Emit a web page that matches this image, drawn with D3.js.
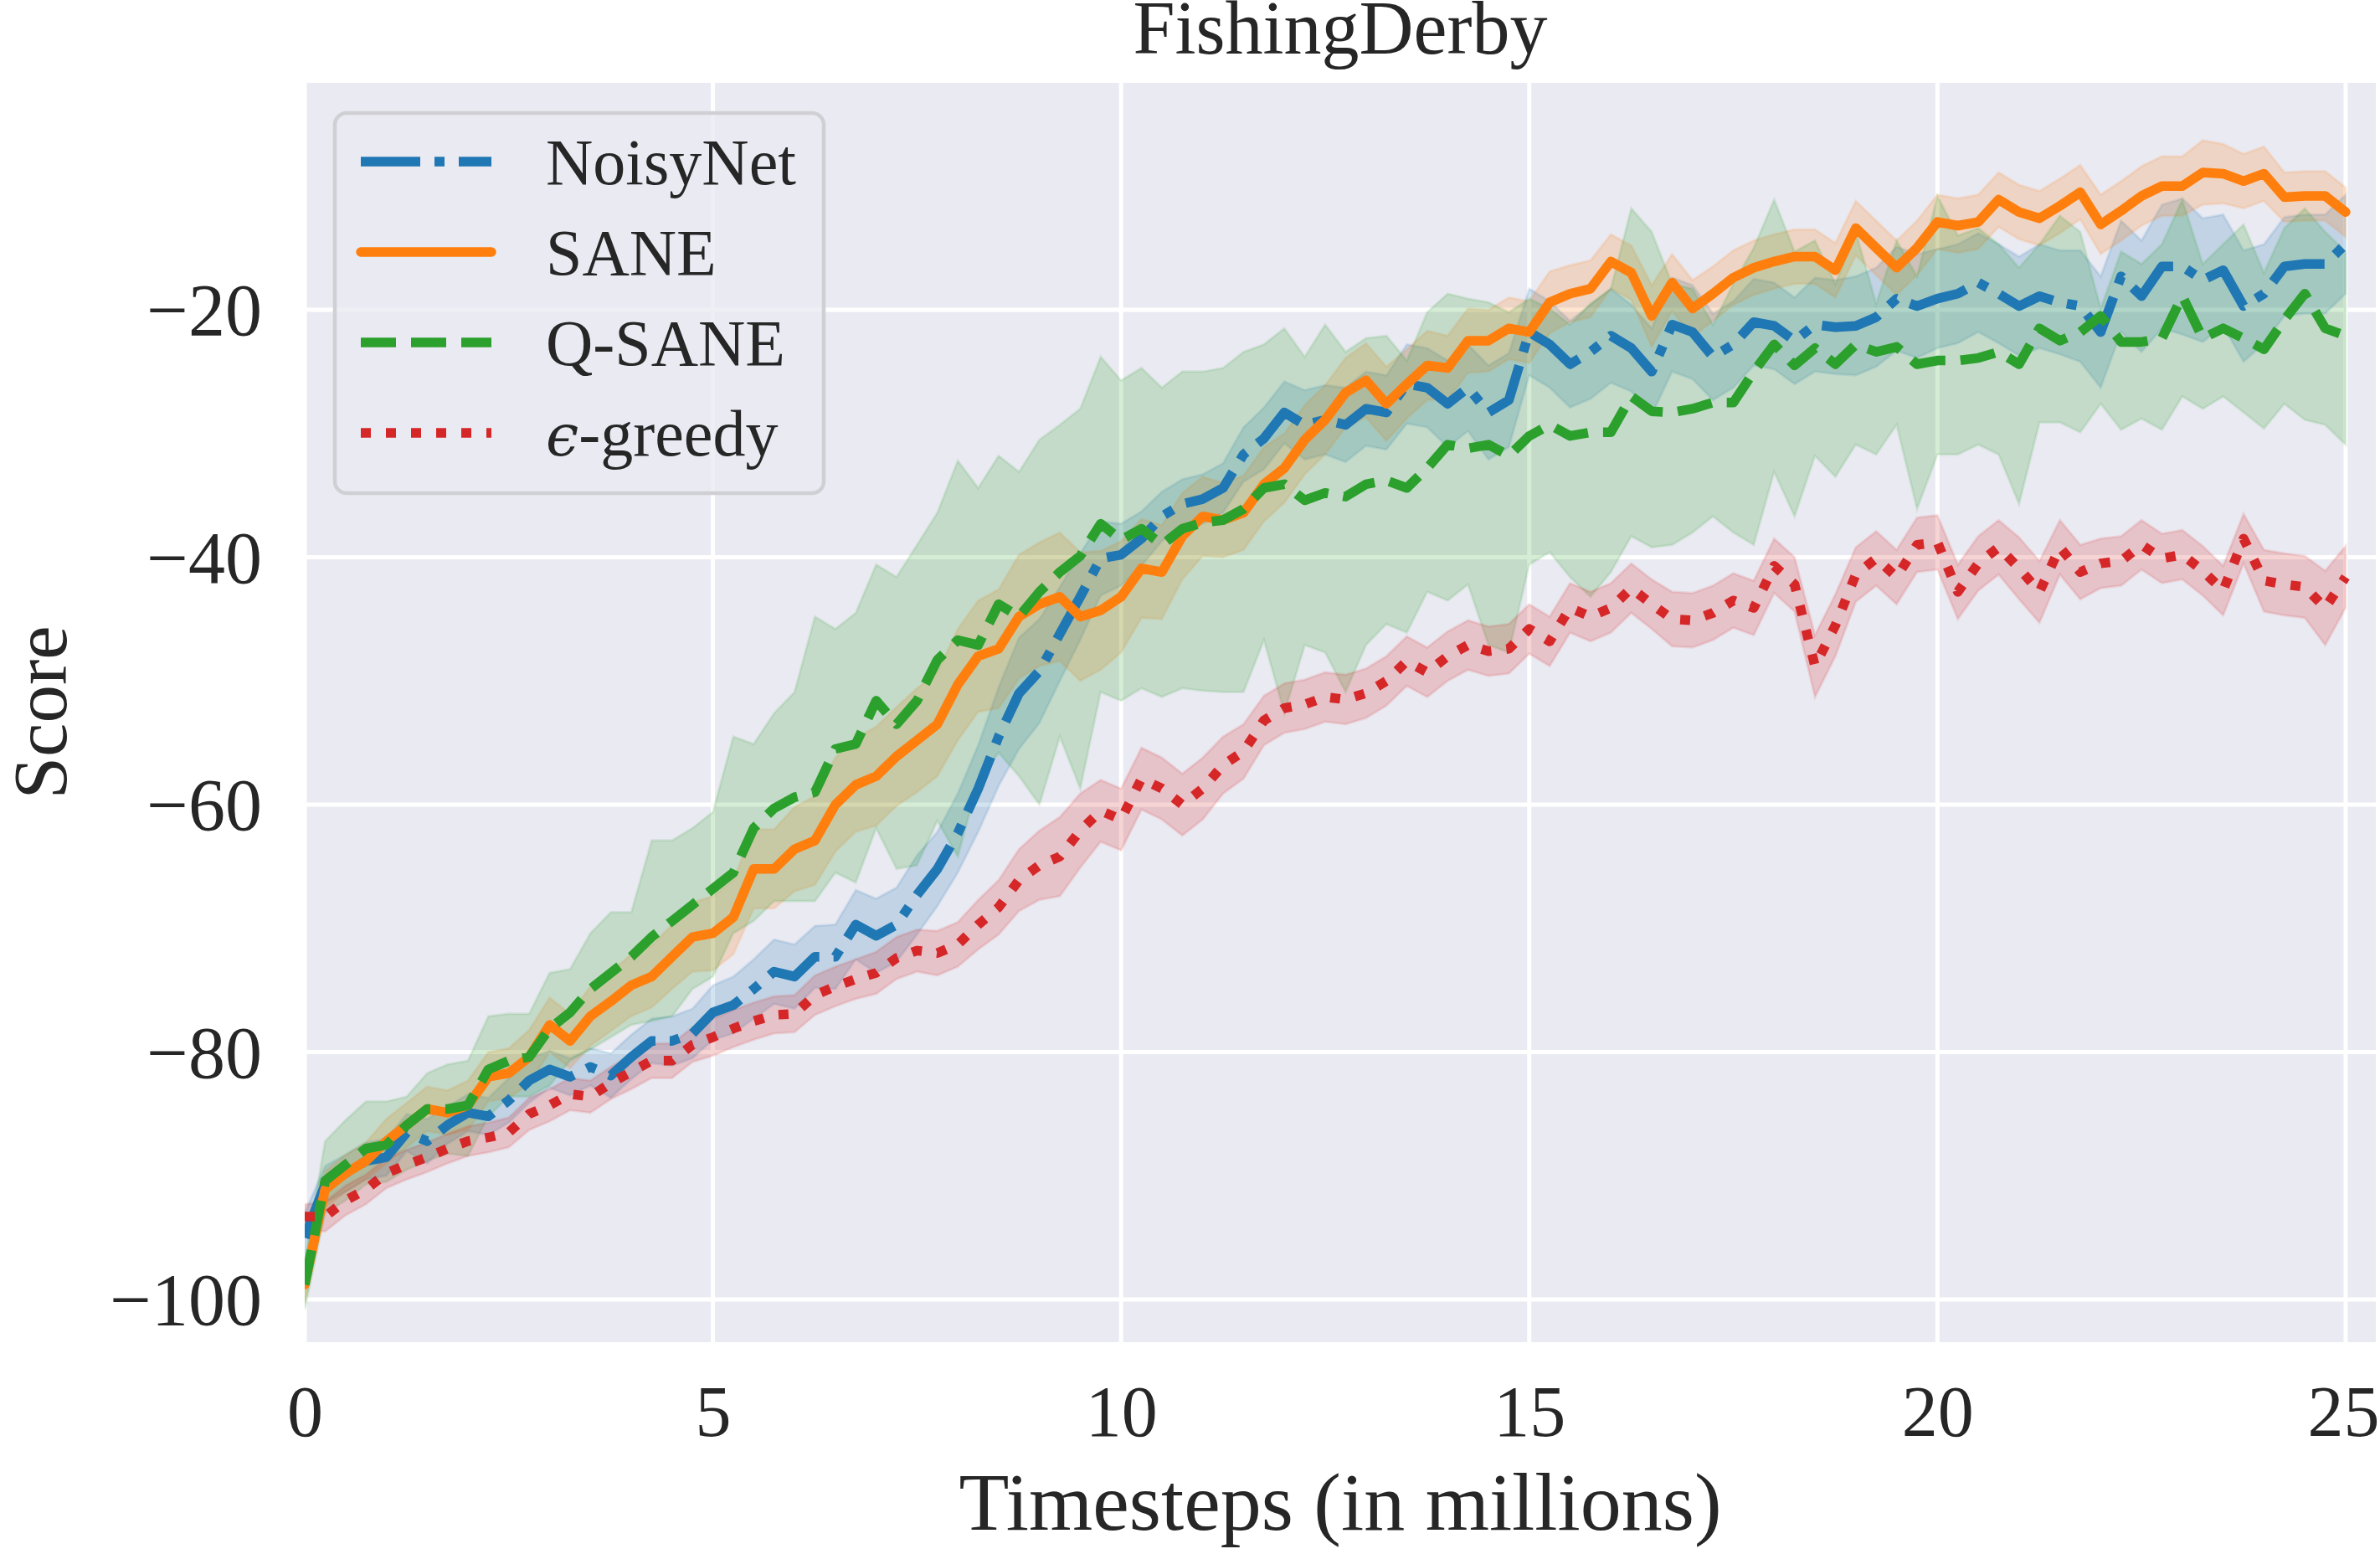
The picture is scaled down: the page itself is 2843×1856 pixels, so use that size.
<!DOCTYPE html>
<html>
<head>
<meta charset="utf-8">
<script src="https://cdn.jsdelivr.net/npm/d3@7/dist/d3.min.js"></script>
<style>
html,body{margin:0;padding:0;background:#fff;}
svg{display:block;}
text{font-family:"Liberation Serif","Times New Roman",serif;fill:#262626;}
</style>
</head>
<body>
<svg id="chart" width="2843" height="1856"></svg>
<script>
// ---------------- DATA ----------------
const timesteps = d3.range(0, 101).map(i => i * 0.25); // 0 .. 25 (millions)
const xTicks = [0, 5, 10, 15, 20, 25];
const yTicks = [-100, -80, -60, -40, -20];
const seriesNames = ["NoisyNet", "SANE", "Q-SANE", "ϵ-greedy"];

const noisyNetMean = [
 -95.0,-90.7,-89.8,-88.8,-88.5,-86.5,-87.2,-85.9,-84.9,-85.2,
 -83.9,-82.3,-81.4,-82.0,-81.2,-81.9,-80.4,-79.1,-79.1,-78.5,
 -76.8,-76.2,-74.9,-73.5,-73.9,-72.3,-72.3,-69.7,-70.6,-69.7,
 -67.3,-65.2,-62.3,-58.7,-54.5,-51.0,-49.2,-46.2,-43.2,-40.1,
 -39.8,-38.5,-36.7,-35.7,-35.3,-34.4,-31.7,-30.4,-28.3,-29.3,
 -28.9,-29.3,-28.0,-28.3,-26.0,-26.3,-27.6,-26.3,-28.3,-27.3,
 -21.8,-22.8,-24.4,-23.4,-22.1,-23.1,-25.0,-21.2,-21.8,-23.8,
 -22.8,-21.0,-21.3,-22.5,-21.2,-21.4,-21.3,-20.6,-19.1,-19.7,
 -19.1,-18.7,-17.8,-18.7,-19.7,-18.9,-19.4,-19.7,-21.8,-17.3,
 -18.9,-16.5,-16.5,-17.6,-16.8,-19.7,-18.7,-16.5,-16.3,-16.3,
 -14.7];
const noisyNetSpread = [
 2.0,1.5,1.5,1.5,1.5,1.5,1.8,1.5,1.5,1.5,
 1.8,1.8,1.5,1.5,1.5,1.8,1.8,1.8,2.0,2.0,
 2.2,2.3,2.4,2.6,2.6,2.5,2.6,2.8,3.0,3.0,
 3.2,3.0,3.2,3.5,4.0,4.5,4.2,3.8,3.5,3.0,
 2.5,2.2,2.0,2.0,2.0,2.0,2.2,2.5,2.5,2.8,
 2.8,3.0,3.0,3.0,3.2,3.2,3.5,3.5,3.8,3.8,
 3.5,3.5,3.5,3.8,3.8,3.5,3.5,3.8,3.8,3.5,
 3.5,3.5,3.5,3.5,3.8,3.8,4.0,4.0,4.2,4.2,
 4.0,4.0,4.0,4.0,4.0,4.2,4.2,4.5,4.5,4.5,
 4.5,5.0,5.5,5.0,4.5,4.5,4.0,4.0,4.0,4.0,
 4.0];

const saneMean = [
 -98.8,-91.1,-89.8,-88.8,-87.2,-85.9,-84.6,-84.9,-84.3,-82.0,
 -81.7,-80.4,-77.8,-79.1,-77.1,-75.9,-74.6,-73.9,-72.3,-70.7,
 -70.4,-69.1,-65.2,-65.2,-63.6,-62.9,-60.0,-58.4,-57.7,-56.1,
 -54.8,-53.5,-50.3,-48.0,-47.4,-44.8,-43.8,-43.2,-44.8,-44.3,
 -43.2,-40.9,-41.2,-38.3,-36.7,-37.0,-36.4,-34.1,-32.8,-30.5,
 -28.9,-26.7,-25.7,-27.6,-26.0,-24.5,-24.7,-22.5,-22.5,-21.5,
 -21.8,-19.4,-18.7,-18.3,-16.1,-17.0,-20.5,-17.8,-19.9,-18.7,
 -17.4,-16.6,-16.1,-15.7,-15.7,-16.8,-13.4,-15.0,-16.6,-15.0,
 -12.9,-13.2,-12.9,-11.1,-12.1,-12.6,-11.6,-10.5,-13.1,-12.0,
 -10.8,-10.0,-10.0,-8.9,-9.0,-9.6,-9.0,-10.9,-10.8,-10.8,
 -12.1];
const saneSpread = [
 1.5,1.5,1.5,1.5,1.8,1.8,1.8,1.8,2.0,2.0,
 2.0,2.2,2.2,2.2,2.4,2.4,2.5,2.5,2.6,2.8,
 3.0,3.0,3.2,3.2,3.4,3.6,3.8,3.8,4.0,4.0,
 4.2,4.2,4.5,4.5,4.8,5.0,5.0,5.2,5.2,4.8,
 4.5,4.0,3.8,3.5,3.2,3.0,3.0,3.0,2.8,2.8,
 2.8,2.8,3.0,3.0,2.8,2.8,2.6,2.6,2.5,2.5,
 2.5,2.5,2.3,2.3,2.2,2.2,2.5,2.3,2.3,2.2,
 2.2,2.2,2.2,2.2,2.2,2.2,2.2,2.2,2.2,2.2,
 2.2,2.2,2.2,2.2,2.2,2.2,2.2,2.2,2.4,2.4,
 2.4,2.4,2.4,2.6,2.4,2.2,2.2,2.0,2.0,2.0,
 2.0];

const qsaneMean = [
 -98.8,-90.4,-89.1,-87.8,-87.5,-85.9,-84.6,-84.6,-84.3,-81.4,
 -80.7,-80.4,-78.1,-76.8,-74.9,-73.6,-72.3,-70.7,-69.4,-68.1,
 -66.8,-65.5,-61.9,-60.3,-59.4,-59.0,-55.5,-55.1,-51.6,-53.5,
 -51.6,-48.3,-46.7,-47.1,-43.8,-44.8,-42.8,-41.2,-39.9,-37.3,
 -38.6,-37.7,-39.0,-37.7,-37.2,-37.0,-36.1,-34.4,-34.1,-35.4,
 -34.8,-35.1,-34.1,-33.8,-34.4,-32.8,-30.9,-31.2,-30.9,-31.8,
 -30.2,-29.3,-30.2,-29.9,-29.9,-27.0,-28.2,-28.3,-28.0,-27.5,
 -27.5,-25.0,-22.8,-24.5,-23.1,-24.4,-22.8,-23.4,-23.0,-24.4,
 -24.1,-24.1,-23.9,-23.4,-24.4,-21.5,-22.5,-21.8,-20.5,-22.6,
 -22.6,-22.3,-18.9,-22.3,-21.5,-22.3,-23.2,-20.8,-18.7,-21.5,
 -22.1];
const qsaneUpper = [
 -96.8,-87.2,-85.5,-84.0,-84.0,-83.6,-81.7,-81.0,-80.7,-77.1,
 -76.9,-76.9,-73.6,-73.3,-70.4,-68.7,-68.7,-62.9,-62.9,-61.9,
 -60.6,-54.5,-55.1,-52.6,-50.9,-44.8,-45.8,-44.5,-40.6,-41.6,
 -39.0,-36.4,-32.2,-34.4,-31.8,-33.1,-30.5,-29.3,-28.0,-23.8,
 -25.7,-24.7,-26.3,-25.0,-25.0,-24.7,-23.4,-22.8,-21.5,-23.8,
 -21.2,-23.4,-22.3,-22.1,-24.1,-20.2,-18.7,-19.1,-19.4,-20.2,
 -19.1,-19.9,-21.2,-19.5,-18.3,-11.8,-13.7,-17.9,-18.3,-21.2,
 -17.9,-15.0,-11.1,-15.3,-14.4,-17.9,-13.7,-19.5,-14.4,-17.3,
 -10.8,-14.0,-13.4,-14.7,-16.6,-14.7,-12.4,-13.7,-19.9,-15.3,
 -16.3,-14.7,-11.1,-16.3,-14.7,-13.1,-17.0,-13.4,-11.8,-13.7,
 -15.3];
const qsaneLower = [
 -100.8,-93.0,-92.0,-90.7,-90.5,-89.5,-88.8,-88.2,-88.4,-85.2,
 -83.6,-83.6,-82.7,-80.7,-79.8,-78.8,-77.8,-77.5,-77.1,-74.9,
 -73.9,-70.4,-69.4,-67.8,-67.8,-67.8,-65.5,-66.3,-61.9,-65.2,
 -64.9,-61.3,-64.2,-58.1,-55.8,-57.7,-60.0,-54.5,-58.7,-50.9,
 -51.6,-50.6,-51.3,-50.6,-50.8,-50.9,-50.9,-46.7,-52.6,-47.1,
 -47.7,-50.9,-47.1,-45.4,-46.1,-42.8,-43.5,-42.2,-47.1,-47.7,
 -40.6,-39.6,-41.6,-43.2,-41.2,-38.3,-39.2,-39.0,-38.0,-36.7,
 -38.0,-39.0,-33.1,-36.7,-31.8,-33.5,-30.9,-31.7,-29.3,-36.1,
 -31.7,-31.7,-30.9,-31.7,-35.7,-29.1,-29.1,-29.9,-27.6,-29.7,
 -28.8,-29.7,-27.0,-28.0,-27.0,-28.3,-29.6,-27.6,-28.9,-29.3,
 -30.9];

const greedyMean = [
 -93.3,-93.3,-92.0,-91.1,-89.8,-89.1,-88.5,-87.8,-87.2,-86.9,
 -86.5,-85.0,-84.3,-83.4,-83.6,-82.5,-81.6,-80.7,-80.7,-79.4,
 -78.8,-78.1,-77.5,-77.0,-76.9,-75.4,-74.7,-74.1,-73.6,-72.4,
 -71.8,-72.0,-71.3,-69.7,-68.3,-66.1,-64.9,-64.2,-62.1,-60.5,
 -61.2,-57.9,-58.7,-60.0,-58.7,-56.8,-55.7,-53.2,-52.2,-51.9,
 -51.3,-51.5,-51.0,-50.0,-48.4,-49.3,-48.0,-47.1,-47.6,-47.4,
 -45.8,-46.8,-44.1,-44.8,-44.1,-42.5,-43.8,-45.0,-45.1,-44.5,
 -43.5,-44.1,-40.7,-42.2,-48.8,-45.5,-41.4,-40.1,-41.6,-39.0,
 -38.8,-42.8,-40.5,-39.2,-40.9,-42.8,-39.2,-41.2,-40.5,-40.3,
 -39.0,-40.1,-39.8,-41.1,-42.7,-38.5,-41.9,-42.2,-42.4,-44.1,
 -41.6];
const greedySpread = [
 1.0,1.2,1.2,1.2,1.2,1.2,1.2,1.2,1.2,1.2,
 1.2,1.3,1.3,1.3,1.3,1.3,1.4,1.4,1.4,1.4,
 1.5,1.5,1.5,1.5,1.5,1.6,1.6,1.6,1.7,1.7,
 1.7,1.8,1.8,2.0,2.2,2.5,2.8,3.2,3.0,2.5,
 2.5,2.5,2.5,2.5,2.5,2.3,2.2,2.0,2.0,2.0,
 2.0,2.0,2.0,2.0,2.0,2.0,2.0,2.0,2.0,2.0,
 2.0,2.0,2.0,2.0,2.0,2.0,2.0,2.2,2.2,2.2,
 2.2,2.2,2.2,2.2,2.5,2.5,2.2,2.2,2.2,2.2,
 2.2,2.2,2.2,2.2,2.5,2.5,2.2,2.2,2.0,2.0,
 2.0,2.0,2.0,2.0,2.0,2.0,2.5,2.5,2.5,3.0,
 2.5];

// ---------------- BUILD ----------------
const toRows = (mean, lo, hi) => timesteps.map((t, i) => ({t, m: mean[i], lo: lo[i], hi: hi[i]}));
const series = [
  {name: seriesNames[0], color: "#1f77b4", dash: "71,17,12,17", cap: "butt",
   rows: toRows(noisyNetMean, noisyNetMean.map((v,i)=>v-noisyNetSpread[i]), noisyNetMean.map((v,i)=>v+noisyNetSpread[i]))},
  {name: seriesNames[1], color: "#ff7f0e", dash: null, cap: "round",
   rows: toRows(saneMean, saneMean.map((v,i)=>v-saneSpread[i]), saneMean.map((v,i)=>v+saneSpread[i]))},
  {name: seriesNames[2], color: "#2ca02c", dash: "42,18", cap: "butt",
   rows: toRows(qsaneMean, qsaneLower, qsaneUpper)},
  {name: seriesNames[3], color: "#d62728", dash: "12,18", cap: "butt",
   rows: toRows(greedyMean, greedyMean.map((v,i)=>v-greedySpread[i]), greedyMean.map((v,i)=>v+greedySpread[i]))}
];

const L = 364, R = 2838, T = 99, B = 1603;
const x = d3.scaleLinear().domain([0, 25.37]).range([L, R]);
const y = d3.scaleLinear().domain([-103.45, -1.66]).range([B, T]);

const svg = d3.select("#chart");
svg.append("rect").attr("width", 2843).attr("height", 1856).attr("fill", "#ffffff");

svg.append("defs").append("clipPath").attr("id", "plotclip")
  .append("rect").attr("x", L).attr("y", T).attr("width", R - L).attr("height", B - T);

svg.append("rect").attr("x", L).attr("y", T).attr("width", R - L).attr("height", B - T).attr("fill", "#eaeaf2");

// grid
const grid = svg.append("g");
grid.selectAll(".gx").data(xTicks).join("line")
  .attr("x1", d => x(d)).attr("x2", d => x(d)).attr("y1", T).attr("y2", B)
  .attr("stroke", "#ffffff").attr("stroke-width", 5);
grid.selectAll(".gy").data(yTicks).join("line")
  .attr("x1", L).attr("x2", R).attr("y1", d => y(d)).attr("y2", d => y(d))
  .attr("stroke", "#ffffff").attr("stroke-width", 5);

const plot = svg.append("g").attr("clip-path", "url(#plotclip)");

// bands
const area = d3.area().x(d => x(d.t)).y0(d => y(d.lo)).y1(d => y(d.hi));
series.forEach(s => {
  plot.append("path").datum(s.rows).attr("d", area)
    .attr("fill", s.color).attr("fill-opacity", 0.2)
    .attr("stroke", s.color).attr("stroke-opacity", 0.12).attr("stroke-width", 3);
});

// lines
const line = d3.line().x(d => x(d.t)).y(d => y(d.m));
series.forEach(s => {
  const p = plot.append("path").datum(s.rows).attr("d", line)
    .attr("fill", "none").attr("stroke", s.color).attr("stroke-width", 11.5)
    .attr("stroke-linejoin", "round").attr("stroke-linecap", s.cap);
  if (s.dash) p.attr("stroke-dasharray", s.dash);
});

// axes tick labels (no tick marks, seaborn darkgrid)
const fmt = v => (v < 0 ? "\u2212" + Math.abs(v) : String(v));
const xAxis = d3.axisBottom(x).tickValues(xTicks).tickSize(0).tickPadding(0).tickFormat(fmt);
const gx = svg.append("g").attr("transform", `translate(0,${B})`).call(xAxis);
gx.select(".domain").remove();
gx.selectAll("text").attr("font-size", 86).attr("font-family", "Liberation Serif")
  .attr("fill", "#262626").attr("dy", null).attr("y", 112);
// keep the last label inside the page, as in the reference
gx.selectAll(".tick").filter(d => d === 25).select("text").attr("dx", -3);

const yAxis = d3.axisLeft(y).tickValues(yTicks).tickSize(0).tickPadding(0).tickFormat(fmt);
const gy = svg.append("g").attr("transform", `translate(${L},0)`).call(yAxis);
gy.select(".domain").remove();
gy.selectAll("text").attr("font-size", 88).attr("font-family", "Liberation Serif")
  .attr("fill", "#262626").attr("x", -51).attr("dy", "0.34em");

// title & labels
svg.append("text").attr("x", (L + R) / 2).attr("y", 64).attr("text-anchor", "middle")
  .attr("font-size", 90).text("FishingDerby");
svg.append("text").attr("x", (L + R) / 2).attr("y", 1827).attr("text-anchor", "middle")
  .attr("font-size", 98).text("Timesteps (in millions)");
svg.append("text").attr("transform", `translate(79,${(T + B) / 2}) rotate(-90)`)
  .attr("text-anchor", "middle").attr("font-size", 91).text("Score");

// legend
const lg = svg.append("g");
lg.append("rect").attr("x", 400).attr("y", 135).attr("width", 584).attr("height", 454)
  .attr("rx", 14).attr("ry", 14)
  .attr("fill", "#eaeaf2").attr("fill-opacity", 0.8)
  .attr("stroke", "#cfcfd4").attr("stroke-width", 4.5);
series.forEach((s, i) => {
  const ly = 193 + i * 108;
  const p = lg.append("line").attr("x1", 431).attr("x2", 587).attr("y1", ly).attr("y2", ly)
    .attr("stroke", s.color).attr("stroke-width", 11.5).attr("stroke-linecap", s.cap === "round" ? "round" : "butt");
  if (s.dash) p.attr("stroke-dasharray", s.dash);
  const t = lg.append("text").attr("x", 652).attr("y", ly + 27).attr("font-size", 78);
  if (s.name.startsWith("ϵ")) {
    t.append("tspan").attr("font-style", "italic").attr("font-family", "DejaVu Serif").attr("font-size", 70).text("ϵ");
    t.append("tspan").text(s.name.slice(1));
  } else {
    t.text(s.name);
  }
});
</script>
</body>
</html>
